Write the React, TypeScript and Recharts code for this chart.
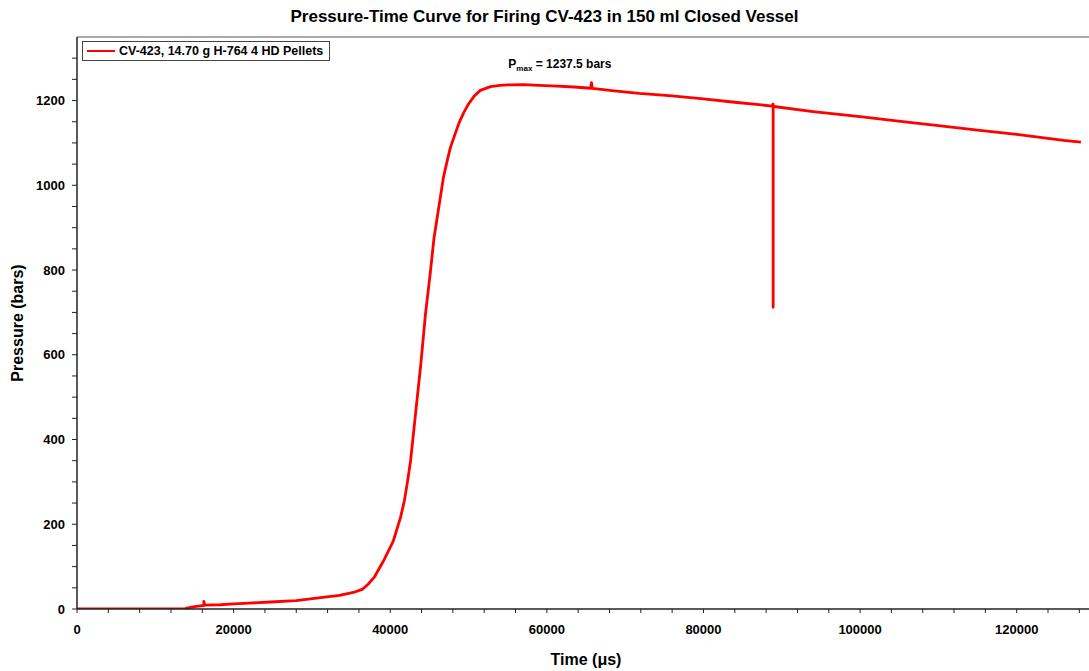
import {
  LineChart,
  Line,
  XAxis,
  YAxis,
  Legend,
  ReferenceLine,
  ReferenceDot,
} from "recharts";

const chartTitle = "Pressure-Time Curve for Firing CV-423 in 150 ml Closed Vessel";
const seriesName = "CV-423, 14.70 g H-764 4 HD Pellets";
const xTitle = "Time (\u03bcs)";
const yTitle = "Pressure (bars)";

// time in microseconds
const times = [
  0, 4000, 8000, 12000, 13800, 14800, 16000, 16200, 16200, 16300, 18300, 20000,
  22000, 24700, 28000, 31100, 33500, 35300, 36500, 37200, 38000, 39100, 40400,
  41300, 41800, 42200, 42600, 43200, 43900, 44500, 45100, 45600, 46200, 46800,
  47300, 47700, 48300, 48800, 49400, 50000, 50700, 51500, 52800, 54000, 55000,
  57000, 59000, 61300, 63500, 65600, 65700, 65800, 68600, 71800, 76000, 80000,
  84000, 88800, 88900, 88900, 88900, 89000, 94000, 100000, 106000, 110000,
  115000, 120000, 124000, 126000, 128200,
];

// pressure in bars
const pressures = [
  0, 0, 0, 0, 1, 5, 8, 8, 18, 9, 10, 12,
  14, 16.5, 20, 27, 32, 39, 47, 59, 76, 112, 161,
  215, 255, 300, 350, 455, 577, 696, 791, 877, 948, 1019,
  1060, 1090, 1122, 1148, 1172, 1192, 1210, 1224, 1233, 1236, 1237,
  1237.5, 1236, 1234, 1232, 1229, 1242, 1229, 1223, 1217, 1211, 1204,
  1196, 1187, 1192, 712, 1186, 1186, 1174, 1162, 1149, 1141,
  1130, 1120, 1111, 1106, 1102,
];

const pmaxTime = 57000;
const pmaxValue = 1237.5;

const xTicks = Array.from({ length: 33 }, (_, i) => i * 4000);
const yTicks = Array.from({ length: 27 }, (_, i) => i * 50);

const data = times.map((t, i) => ({ time: t, pressure: pressures[i] }));

const FONT = "'Liberation Sans', Arial, sans-serif";
const RED = "#ff0000";
const AXIS = "#222";

const tickStyle = { fontFamily: FONT, fontSize: 13, fontWeight: 700, fill: "#000" };

const XTitle = ({ viewBox }: any) => (
  <text
    x={viewBox.x + viewBox.width / 2}
    y={viewBox.y + 56}
    textAnchor="middle"
    style={{ fontFamily: FONT, fontSize: 16, fontWeight: 700, fill: "#000" }}
  >
    {xTitle}
  </text>
);

const YTitle = ({ viewBox }: any) => {
  const x = viewBox.x + 23;
  const y = viewBox.y + viewBox.height / 2;
  return (
    <text
      x={x}
      y={y}
      transform={`rotate(-90, ${x}, ${y})`}
      textAnchor="middle"
      style={{ fontFamily: FONT, fontSize: 16, fontWeight: 700, fill: "#000" }}
    >
      {yTitle}
    </text>
  );
};

const PmaxLabel = ({ viewBox }: any) => {
  const x = viewBox.x - 15;
  const y = viewBox.y - 17;
  return (
    <text x={x} y={y} style={{ fontFamily: FONT, fontSize: 12, fontWeight: 700, fill: "#000" }}>
      P
      <tspan fontSize={8} dy={3}>max</tspan>
      <tspan dy={-3}>{` = ${pmaxValue} bars`}</tspan>
    </text>
  );
};

const LegendBox = () => (
  <div
    style={{
      border: "1px solid #444",
      background: "#fff",
      display: "flex",
      alignItems: "center",
      height: 18,
      padding: "0 6px 0 4px",
      fontFamily: FONT,
      fontSize: 12.5,
      fontWeight: 700,
      color: "#000",
      whiteSpace: "nowrap",
    }}
  >
    <span style={{ display: "inline-block", width: 28, height: 2, background: RED, marginRight: 4 }} />
    {seriesName}
  </div>
);

export default function App() {
  return (
    <div
      style={{
        position: "absolute",
        left: 0,
        top: 0,
        width: 1089,
        height: 671,
        overflow: "hidden",
        background: "#fff",
      }}
    >
      <div
        style={{
          position: "absolute",
          top: 7,
          left: 0,
          width: 1089,
          textAlign: "center",
          fontFamily: FONT,
          fontSize: 17,
          fontWeight: 700,
          color: "#000",
          zIndex: 2,
        }}
      >
        {chartTitle}
      </div>
      <LineChart
        width={1095}
        height={671}
        data={data}
        margin={{ top: 37, right: 0, bottom: 0, left: 0 }}
      >
        <XAxis
          dataKey="time"
          type="number"
          domain={[0, 130000]}
          ticks={xTicks}
          interval={0}
          tickFormatter={(v: number) => (v % 20000 === 0 ? String(v) : "")}
          tick={tickStyle}
          tickSize={4}
          tickMargin={12}
          height={62}
          axisLine={{ stroke: AXIS, strokeWidth: 1.5 }}
          tickLine={{ stroke: AXIS }}
          allowDataOverflow
          label={<XTitle />}
        />
        <YAxis
          type="number"
          domain={[0, 1350]}
          ticks={yTicks}
          interval={0}
          tickFormatter={(v: number) => (v % 200 === 0 ? String(v) : "")}
          tick={tickStyle}
          tickSize={5}
          tickMargin={7}
          width={77}
          axisLine={{ stroke: AXIS, strokeWidth: 1.5 }}
          tickLine={{ stroke: AXIS }}
          allowDataOverflow
          label={<YTitle />}
        />
        <ReferenceLine y={1350} stroke="#555" strokeWidth={1.2} ifOverflow="visible" />
        <Legend
          layout="horizontal"
          verticalAlign="middle"
          align="center"
          content={<LegendBox />}
          wrapperStyle={{ position: "absolute", left: 82, top: 41, width: "auto" }}
        />
        <Line
          type="linear"
          dataKey="pressure"
          name={seriesName}
          stroke={RED}
          strokeWidth={2.8}
          strokeLinejoin="round"
          dot={false}
          activeDot={false}
          isAnimationActive={false}
        />
        <ReferenceDot
          x={pmaxTime}
          y={pmaxValue}
          r={0}
          fill="none"
          stroke="none"
          label={<PmaxLabel />}
        />
      </LineChart>
    </div>
  );
}
